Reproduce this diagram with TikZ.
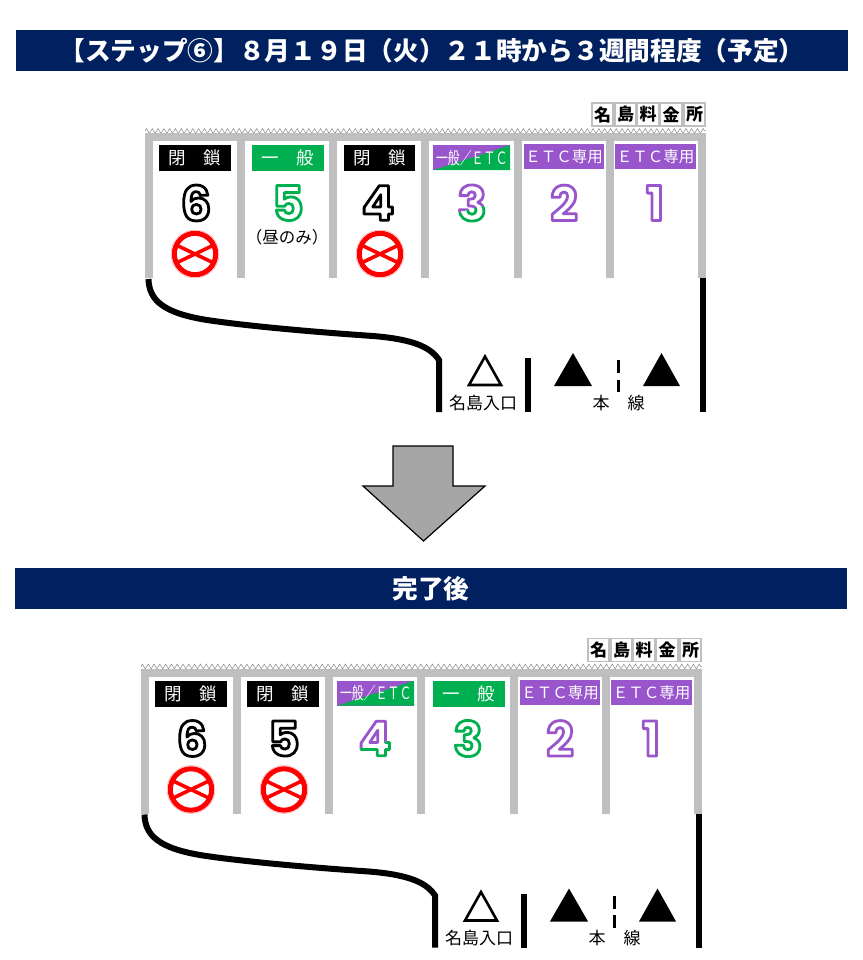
\documentclass[tikz,border=0pt]{standalone}
\usepackage{fontspec}
\usepackage{graphicx}
\setmainfont{Noto Sans CJK JP}
\newfontfamily\numfont{Poppins}
\usetikzlibrary{positioning,decorations.pathmorphing}
\definecolor{navy}{HTML}{002060}
\definecolor{signgreen}{HTML}{00B050}
\definecolor{signpurple}{HTML}{9955CC}
\definecolor{postgray}{HTML}{BFBFBF}
\definecolor{arrowgray}{HTML}{A6A6A6}
\tikzstyle{titlebar} = [fill=navy,text=white,inner sep=0,minimum height=41,minimum width=832,font=\fontsize{25.7}{26}\selectfont\bfseries]
\tikzstyle{signbox} = [anchor=north west,inner sep=0,minimum height=26,text=white,font=\fontsize{17.5}{18}\selectfont]
\tikzstyle{splitsign} = [signbox,fill=signpurple,path picture={\fill[signgreen] (path picture bounding box.south west) -- (path picture bounding box.north east) -- (path picture bounding box.south east) -- cycle;}]
\tikzstyle{post} = [fill=postgray]
\tikzstyle{namebox} = [draw=postgray,line width=1.6,fill=white,inner sep=0,minimum width=21.5,minimum height=23,font=\fontsize{17}{17}\selectfont\bfseries]
\tikzstyle{roadtext} = [inner sep=0,font=\fontsize{17}{17}\selectfont]
\tikzstyle{curbline} = [line width=6,black]
\tikzstyle{digit} = [inner sep=0,text=white,font=\fontsize{48}{48}\selectfont\numfont\bfseries]
\def \numy {203}
\def \numblack {0 0 0}
\def \numgreen {0 .69 .314}
\def \numpurple {.6 .333 .8}

% digit with coloured outline: stroke colour, digit
\newcommand{\outlined}[2]{\special{pdf:code 2 Tr 2.8 w 1 j #1 RG}#2\special{pdf:code 0 Tr}}

% lane number: name, x, digit, colour
\newcommand{\lanenum}[4]{
  \node[digit] (#1) at (#2,\numy) {\outlined{#4}{#3}};
}

% lane number of two colours, purple over green: name, x, digit
\newcommand{\splitnum}[3]{
  \begin{scope}
    \clip (#2-30,\numy-30) -- (#2+30,\numy-30) -- (#2+30,\numy-2) -- (#2-30,\numy+14) -- cycle;
    \node[digit] (#1u) at (#2,\numy) {\outlined{\numpurple}{#3}};
  \end{scope}
  \begin{scope}
    \clip (#2-30,\numy+30) -- (#2+30,\numy+30) -- (#2+30,\numy-2) -- (#2-30,\numy+14) -- cycle;
    \node[digit] (#1l) at (#2,\numy) {\outlined{\numgreen}{#3}};
  \end{scope}
}

% closed lane mark: name, x
\newcommand{\closedmark}[2]{
  \coordinate (#1) at (#2,254);
  \fill[white,draw=red!35,line width=.5] (#1) circle (24);
  \begin{scope}
    \clip (#1) circle (22);
    \draw[red,line width=3.6] (#2-22,243.5) -- (#2+22,264.5);
    \draw[red,line width=3.6] (#2-22,264.5) -- (#2+22,243.5);
  \end{scope}
  \draw[red,line width=5] (#1) circle (20.7);
}

% roof, posts, curbs and texts of one plaza: name prefix
\newcommand{\plazabase}[1]{
  \draw[postgray!70!black,line width=.5,decorate,decoration={zigzag,segment length=5.8,amplitude=2.4}] (145,131) -- (706,131);
  \fill[post] (145,133) rectangle (706,141);
  \foreach \px in {145,237,329,421,514,606,698} {
    \fill[post] (\px,133) rectangle (\px+8,278);
  }
  \foreach \i/\t/\bx in {1/名/602.5,2/島/625.5,3/料/648,4/金/671,5/所/694.5} {
    \node[namebox] (#1name\i) at (\bx,114.5) {\t};
  }
  \draw[curbline] (148.5,279) .. controls (149,300) and (163,313) .. (207,320) .. controls (240,325) and (300,331) .. (373,336) .. controls (410,339) and (430,346) .. (439,360) -- (439,412);
  \draw[curbline] (703,278) -- (703,412);
  \draw[curbline] (527.5,358) -- (527.5,412);
  \draw[black,line width=3] (618,360) -- (618,373);
  \draw[black,line width=3] (618,379.5) -- (618,392);
  \draw[black,line width=2.6,fill=white,line join=miter] (485,356.5) -- (501,385) -- (469,385) -- cycle;
  \fill[black] (573,353) -- (592,386) -- (554,386) -- cycle;
  \fill[black] (661.5,353) -- (680,386) -- (643,386) -- cycle;
  \node[roadtext] (#1ramp) at (483,403) {名島入口};
  \node[roadtext] (#1mainl) at (601,403) {本};
  \node[roadtext] (#1mainr) at (636,403) {線};
}

\begin{document}
\begin{tikzpicture}[x=1pt,y=-1pt]
  \useasboundingbox (0,0) rectangle (862,960);
  \fill[white] (0,0) rectangle (862,960);

  \node[titlebar] (title) at (432,50.5) {【ステップ⑥】８月１９日（火）２１時から３週間程度（予定）};
  \node[titlebar] (donetitle) at (431,588.5) {完了後};

  \plazabase{a}
  \node[signbox,fill=black,minimum width=72] (a6sign) at (159,145) {閉　鎖};
  \node[signbox,fill=signgreen,minimum width=72] (a5sign) at (252,145) {一　般};
  \node[signbox,fill=black,minimum width=71] (a4sign) at (344,145) {閉　鎖};
  \node[splitsign,minimum width=77,minimum height=25] (a3sign) at (433,145) {\scalebox{.7}[1]{\fontsize{17}{17}\selectfont 一般／ＥＴＣ}};
  \node[signbox,fill=signpurple,minimum width=80,minimum height=25] (a2sign) at (524,144) {\fontsize{15.5}{16}\selectfont ＥＴＣ専用};
  \node[signbox,fill=signpurple,minimum width=81,minimum height=25] (a1sign) at (615,144) {\fontsize{15.5}{16}\selectfont ＥＴＣ専用};
  \lanenum{a6}{196}{6}{\numblack}
  \lanenum{a5}{288}{5}{\numgreen}
  \lanenum{a4}{378}{4}{\numblack}
  \splitnum{a3}{472}{3}
  \lanenum{a2}{564}{2}{\numpurple}
  \lanenum{a1}{655}{1}{\numpurple}
  \closedmark{a6mark}{195}
  \closedmark{a4mark}{380}
  \node[inner sep=0,font=\fontsize{16.5}{17}\selectfont] (a5note) at (287,237) {（昼のみ）};

  \draw[black,line width=1.2,fill=arrowgray] (393,446) -- (453,446) -- (453,486) -- (485,486) -- (423.5,541) -- (363,486) -- (393,486) -- cycle;

  \begin{scope}[shift={(-4,535.5)}]
    \plazabase{b}
    \node[signbox,fill=black,minimum width=72] (b6sign) at (159,145) {閉　鎖};
    \node[signbox,fill=black,minimum width=72] (b5sign) at (251,145) {閉　鎖};
    \node[splitsign,minimum width=77,minimum height=25] (b4sign) at (341,145) {\scalebox{.7}[1]{\fontsize{17}{17}\selectfont 一般／ＥＴＣ}};
    \node[signbox,fill=signgreen,minimum width=72] (b3sign) at (437,145) {一　般};
    \node[signbox,fill=signpurple,minimum width=80,minimum height=25] (b2sign) at (524,144) {\fontsize{15.5}{16}\selectfont ＥＴＣ専用};
    \node[signbox,fill=signpurple,minimum width=81,minimum height=25] (b1sign) at (615,144) {\fontsize{15.5}{16}\selectfont ＥＴＣ専用};
    \lanenum{b6}{196}{6}{\numblack}
    \lanenum{b5}{288}{5}{\numblack}
    \splitnum{b4}{379}{4}
    \lanenum{b3}{472}{3}{\numgreen}
    \lanenum{b2}{564}{2}{\numpurple}
    \lanenum{b1}{655}{1}{\numpurple}
    \closedmark{b6mark}{195}
    \closedmark{b5mark}{288}
  \end{scope}
\end{tikzpicture}
\end{document}
